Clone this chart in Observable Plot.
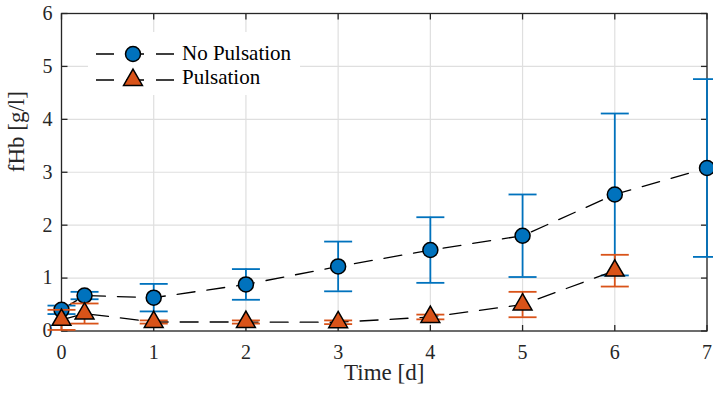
<!DOCTYPE html>
<html><head><meta charset="utf-8">
<script src="https://cdn.jsdelivr.net/npm/d3@7"></script>
<script src="https://cdn.jsdelivr.net/npm/@observablehq/plot@0.6"></script>
<style>body{margin:0;background:#fff;} #chart{width:713px;height:396px;} #chart svg text{font-family:'Liberation Serif', serif;}</style>
</head><body><div id="chart"></div>
<script>
const timeNP = [0, 0.25, 1, 2, 3, 4, 5, 6, 7];
const meanNP = [0.40, 0.67, 0.63, 0.88, 1.22, 1.53, 1.80, 2.58, 3.08];
const errNP  = [0.08, 0.07, 0.26, 0.29, 0.47, 0.62, 0.78, 1.53, 1.68];
const timeP  = [0, 0.25, 1, 2, 3, 4, 5, 6];
const meanP  = [0.21, 0.33, 0.17, 0.17, 0.165, 0.265, 0.50, 1.14];
const errP   = [0.19, 0.19, 0.03, 0.03, 0.035, 0.045, 0.24, 0.30];
const xTicks = [0, 1, 2, 3, 4, 5, 6, 7];
const yTicks = [0, 1, 2, 3, 4, 5, 6];
const seriesNames = ["No Pulsation", "Pulsation"];
const xLabel = "Time [d]";
const yLabel = "fHb [g/l]";
const colors = ["#0072BD", "#D95319"];

const np = timeNP.map((t, i) => ({t, m: meanNP[i], lo: meanNP[i] - errNP[i], hi: meanNP[i] + errNP[i]}));
const pu = timeP.map((t, i) => ({t, m: meanP[i], lo: meanP[i] - errP[i], hi: meanP[i] + errP[i]}));

const rad = s => Math.sqrt(s / Math.PI);
const capSym = {draw(c, s) { const w = rad(s); c.moveTo(-w, 0); c.lineTo(w, 0); }};
const tUp = {draw(c, s) { const l = rad(s); c.moveTo(0, 0); c.lineTo(0, -l); }};
const tDown = {draw(c, s) { const l = rad(s); c.moveTo(0, 0); c.lineTo(0, l); }};
const tRight = {draw(c, s) { const l = rad(s); c.moveTo(0, 0); c.lineTo(l, 0); }};
const tLeft = {draw(c, s) { const l = rad(s); c.moveTo(0, 0); c.lineTo(-l, 0); }};

const axisCol = "#262626";
const gridCol = "#dfdfdf";
const dash = "18,12";
const serif = "'Liberation Serif', serif";
const rCircle = 7.5, rTri = 7;

function series(data, color, symbol, r) {
  return [
    Plot.line(data, {x: "t", y: "m", stroke: "#000", strokeWidth: 1.3, strokeDasharray: dash}),
    Plot.ruleX(data, {x: "t", y1: "lo", y2: "hi", stroke: color, strokeWidth: 1.8}),
    Plot.dot(data, {x: "t", y: "lo", symbol: capSym, r: 14, stroke: color, strokeWidth: 1.8}),
    Plot.dot(data, {x: "t", y: "hi", symbol: capSym, r: 14, stroke: color, strokeWidth: 1.8}),
    Plot.dot(data, {x: "t", y: "m", symbol, r, fill: color, stroke: "#000", strokeWidth: 1.5})
  ];
}

const chart = Plot.plot({
  width: 713, height: 396,
  marginLeft: 61, marginRight: 6.5, marginTop: 13, marginBottom: 65.5,
  style: {fontFamily: serif, fontSize: "20px", color: axisCol, background: "#fff"},
  x: {domain: [0, 7]},
  y: {domain: [0, 6]},
  marks: [
    Plot.gridX(xTicks, {stroke: gridCol, strokeOpacity: 1, strokeWidth: 1.2}),
    Plot.gridY(yTicks, {stroke: gridCol, strokeOpacity: 1, strokeWidth: 1.2}),
    Plot.frame({stroke: axisCol, strokeWidth: 1.3}),
    Plot.dot(xTicks, {x: d => d, frameAnchor: "bottom", symbol: tUp, r: 6, stroke: axisCol, strokeWidth: 1.3}),
    Plot.dot(xTicks, {x: d => d, frameAnchor: "top", symbol: tDown, r: 6, stroke: axisCol, strokeWidth: 1.3}),
    Plot.dot(yTicks, {y: d => d, frameAnchor: "left", symbol: tRight, r: 6, stroke: axisCol, strokeWidth: 1.3}),
    Plot.dot(yTicks, {y: d => d, frameAnchor: "right", symbol: tLeft, r: 6, stroke: axisCol, strokeWidth: 1.3}),
    Plot.axisX(xTicks, {tickSize: 0, tickPadding: 14, label: null, fontSize: 20, fontFamily: serif, tickFormat: d3.format("d")}),
    Plot.axisY(yTicks, {tickSize: 0, tickPadding: 9, label: null, fontSize: 20, fontFamily: serif, tickFormat: d3.format("d")}),
    Plot.text([xLabel], {text: d => d, frameAnchor: "bottom", dy: 49, fontSize: 23, fontFamily: serif, fill: axisCol}),
    Plot.text([yLabel], {text: d => d, frameAnchor: "left", dx: -45, rotate: -90, fontSize: 23, fontFamily: serif, fill: axisCol}),
    ...series(np, colors[0], "circle", rCircle),
    ...series(pu, colors[1], "triangle", rTri)
  ]
});
document.getElementById("chart").appendChild(chart);

// legend (inside plot, upper left)
const svg = d3.select(chart);
const lg = svg.append("g").attr("class", "legend").attr("text-anchor", "start");
lg.append("rect").attr("x", 88).attr("y", 32).attr("width", 212).attr("height", 63).attr("fill", "#fff");
const rows = [
  {name: seriesNames[0], color: colors[0], sym: d3.symbolCircle, r: rCircle, cy: 54, base: 60},
  {name: seriesNames[1], color: colors[1], sym: d3.symbolTriangle, r: rTri, cy: 80, base: 84}
];
rows.forEach(row => {
  lg.append("line").attr("x1", 96).attr("x2", 177).attr("y1", row.cy).attr("y2", row.cy)
    .attr("stroke", "#000").attr("stroke-width", 1.3).attr("stroke-dasharray", dash);
  lg.append("path").attr("d", d3.symbol(row.sym, row.r * row.r * Math.PI)())
    .attr("transform", `translate(133,${row.cy})`)
    .attr("fill", row.color).attr("stroke", "#000").attr("stroke-width", 1.5);
  lg.append("text").attr("x", 182).attr("y", row.base).text(row.name)
    .attr("text-anchor", "start")
    .style("font-size", "21px").style("font-family", serif).attr("fill", "#000");
});
</script>
</body></html>
